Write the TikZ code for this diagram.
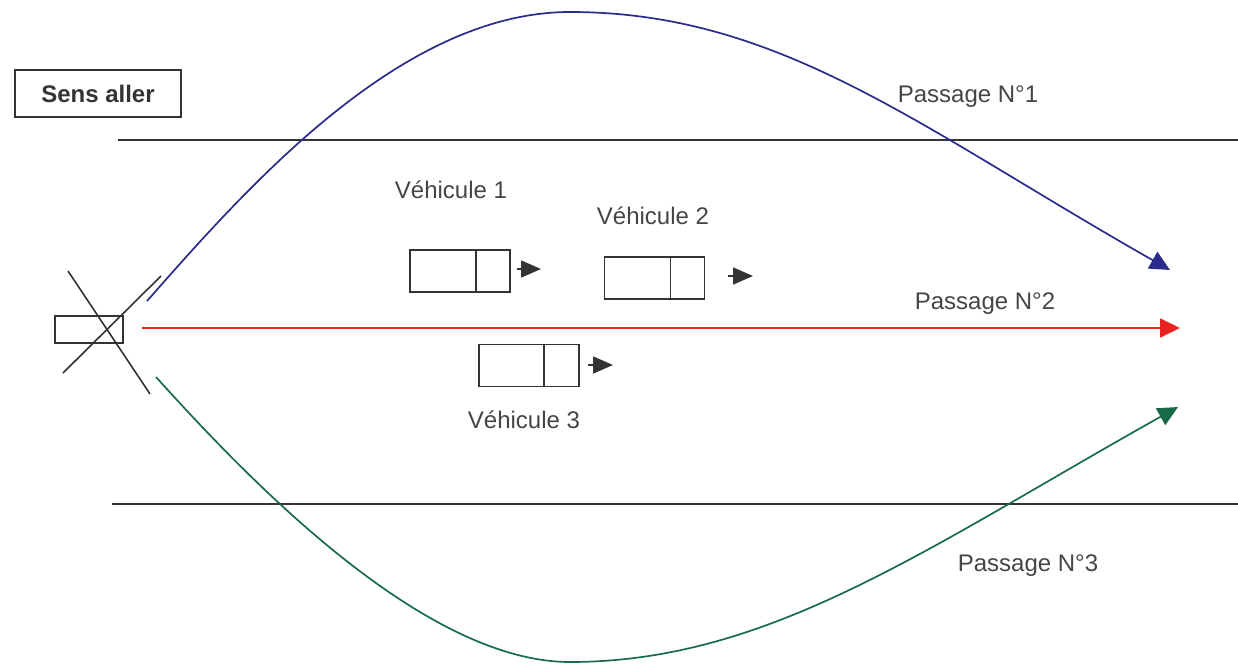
\documentclass[tikz,border=0pt]{standalone}
\usepackage{fontspec}
\setmainfont{Liberation Sans}
\usetikzlibrary{arrows.meta,calc}
\definecolor{pblue}{HTML}{2B2B8C}
\definecolor{pred}{HTML}{E8221E}
\definecolor{pgreen}{HTML}{186B48}
\definecolor{ink}{HTML}{333333}
\definecolor{txt}{HTML}{454545}
\begin{document}
\begin{tikzpicture}[x=0.5pt,y=-0.5pt,
  lbl/.style={text=txt,font=\fontsize{12}{14}\selectfont,inner sep=0pt},
  veh/.style={draw=ink,line width=0.75pt,minimum width=50pt,minimum height=21pt,inner sep=0pt},
  road/.style={draw=ink,line width=0.75pt},
  pass/.style={line width=0.85pt},
  bigtip/.style={-{Triangle[length=10pt,width=9.5pt]}},
  smalltip/.style={ink,line width=0.8pt,-{Triangle[length=10pt,width=8.5pt]}}]
\useasboundingbox (0,0) rectangle (1238,664);
% legend box
\node[draw=ink,line width=0.75pt,minimum width=83pt,minimum height=23.5pt,inner sep=0pt,
      font=\bfseries\fontsize{12}{14}\selectfont,text=ink] (sens) at (98,93.5) {Sens aller};
% road edges
\coordinate (r1a) at (118,140); \coordinate (r1b) at (1238,140);
\coordinate (r2a) at (112,504); \coordinate (r2b) at (1238,504);
\draw[road] (r1a) -- (r1b);
\draw[road] (r2a) -- (r2b);
% antenna
\node[draw=ink,line width=0.75pt,minimum width=34pt,minimum height=13.5pt,inner sep=0pt] (ant) at (89,329.5) {};
\coordinate (c1a) at (68,271); \coordinate (c1b) at (150,394);
\coordinate (c2a) at (63,373); \coordinate (c2b) at (161,276);
\draw[ink,line width=0.8pt] (c1a) -- (c1b);
\draw[ink,line width=0.8pt] (c2a) -- (c2b);
% passage 1
\coordinate (b0) at (147,301); \coordinate (btop) at (570,12); \coordinate (b1) at (1170,270);
\draw[pass,pblue,bigtip] (b0) .. controls (245,190) and (400,12) .. (btop)
  .. controls (780,12) and (920,128) .. (b1);
% passage 2
\coordinate (r0) at (142,328); \coordinate (r1) at (1180,328);
\draw[pass,pred,bigtip] (r0) -- (r1);
% passage 3
\coordinate (g0) at (156,377); \coordinate (gbot) at (570,662); \coordinate (g1) at (1178,407);
\draw[pass,pgreen,bigtip] (g0) .. controls (240,470) and (420,662) .. (gbot)
  .. controls (770,662) and (928,547) .. (g1);
% labels
\node[lbl] (p1) at (968,97) {Passage N°1};
\node[lbl] (p2) at (985,304) {Passage N°2};
\node[lbl] (p3) at (1028,566) {Passage N°3};
\node[lbl] (l1) at (451,190) {Véhicule 1};
\node[lbl] (l2) at (653,216) {Véhicule 2};
\node[lbl] (l3) at (524,420) {Véhicule 3};
% vehicles
\node[veh] (v1) at (460,271) {};
\draw[ink,line width=0.75pt] ($(v1.north west)!0.66!(v1.north east)$) -- ($(v1.south west)!0.66!(v1.south east)$);
\node[veh] (v2) at (654.5,278) {};
\draw[ink,line width=0.75pt] ($(v2.north west)!0.66!(v2.north east)$) -- ($(v2.south west)!0.66!(v2.south east)$);
\node[veh] (v3) at (529,365.5) {};
\draw[ink,line width=0.75pt] ($(v3.north west)!0.65!(v3.north east)$) -- ($(v3.south west)!0.65!(v3.south east)$);
% vehicle arrows
\coordinate (a1s) at (517,269); \coordinate (a1e) at (541,269);
\coordinate (a2s) at (728,276); \coordinate (a2e) at (753,276);
\coordinate (a3s) at (588,365); \coordinate (a3e) at (613,365);
\draw[smalltip] (a1s) -- (a1e);
\draw[smalltip] (a2s) -- (a2e);
\draw[smalltip] (a3s) -- (a3e);
\end{tikzpicture}
\end{document}
